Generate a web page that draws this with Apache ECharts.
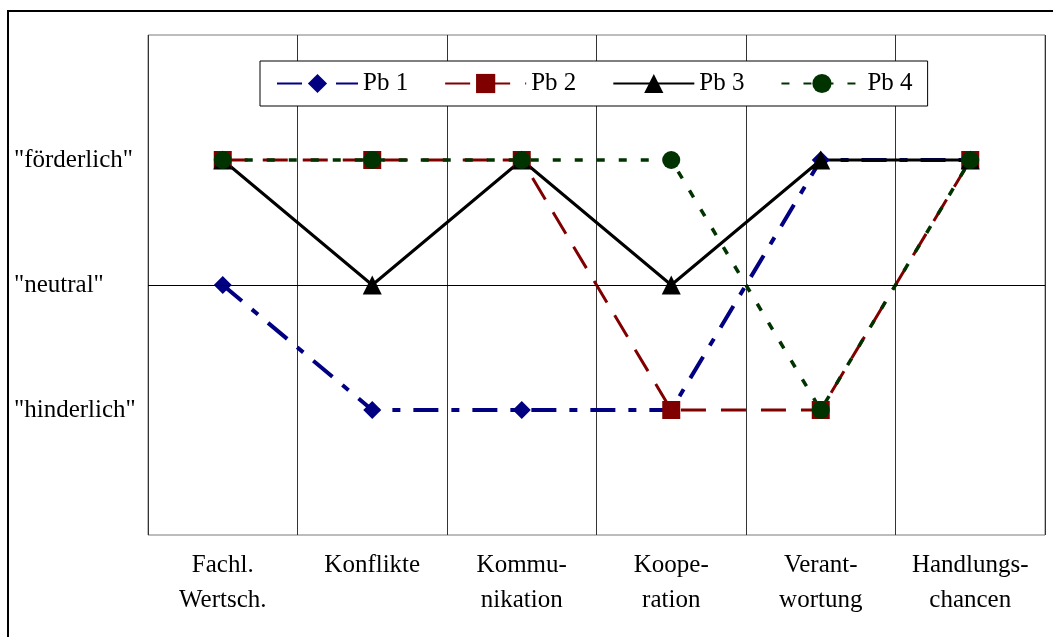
<!DOCTYPE html>
<html>
<head>
<meta charset="utf-8">
<script src="https://cdn.jsdelivr.net/npm/echarts@6/dist/echarts.min.js"></script>
<style>
  html, body { margin: 0; padding: 0; background: #fff; }
  #chart { width: 1053px; height: 637px; }
</style>
</head>
<body>
<div id="chart"></div>
<script>
// Rating scale: -1 = hinderlich, 0 = neutral, 1 = förderlich
const categories = ['Fachl.\nWertsch.', 'Konflikte', 'Kommu-\nnikation', 'Koope-\nration', 'Verant-\nwortung', 'Handlungs-\nchancen'];
const ratingLabels = { '1': '"förderlich"', '0': '"neutral"', '-1': '"hinderlich"' };

const pb1 = [0, -1, -1, -1, 1, 1];
const pb2 = [1, 1, 1, -1, -1, 1];
const pb3 = [1, 0, 1, 0, 1, 1];
const pb4 = [1, 1, 1, 1, -1, 1];

const FONT = 'Liberation Serif';

const chart = echarts.init(document.getElementById('chart'), null, { renderer: 'canvas' });

function lineSeries(name, data, color, width, dash, symbol, size, extra) {
  return Object.assign({
    name: name,
    type: 'line',
    data: data,
    symbol: symbol,
    symbolSize: size,
    showAllSymbol: true,
    lineStyle: { color: color, width: width, type: dash },
    itemStyle: { color: color, borderWidth: 0 },
    emphasis: { disabled: true }
  }, extra || {});
}

chart.setOption({
  animation: false,
  backgroundColor: '#fff',
  textStyle: { fontFamily: FONT, color: '#000' },
  graphic: [
    { type: 'line', shape: { x1: 8, y1: 11, x2: 1053, y2: 11 }, style: { stroke: '#000', lineWidth: 2 }, silent: true },
    { type: 'line', shape: { x1: 8, y1: 10, x2: 8, y2: 637 }, style: { stroke: '#000', lineWidth: 2 }, silent: true }
  ],
  legend: {
    left: 260,
    top: 61,
    padding: [10, 15, 10, 16],
    itemGap: 36,
    itemWidth: 81,
    itemHeight: 24,
    backgroundColor: '#fff',
    borderColor: '#000',
    borderWidth: 1,
    borderRadius: 0,
    textStyle: { fontFamily: FONT, fontSize: 25, color: '#000' },
    data: ['Pb 1', 'Pb 2', 'Pb 3', 'Pb 4']
  },
  grid: {
    left: 148, right: 8, top: 35, bottom: 102,
    show: true, borderColor: '#7a7a7a', borderWidth: 1, backgroundColor: 'transparent'
  },
  xAxis: {
    type: 'category',
    data: categories,
    boundaryGap: true,
    axisLine: { show: false },
    axisTick: { show: false },
    splitLine: { show: true, interval: 0, lineStyle: { color: '#333', width: 1 } },
    axisLabel: {
      interval: 0, margin: 13,
      fontFamily: FONT, fontSize: 25, lineHeight: 35, color: '#000'
    }
  },
  yAxis: {
    type: 'value',
    min: -2, max: 2, interval: 1,
    axisLine: { show: false },
    axisTick: { show: false },
    splitLine: { show: false },
    axisLabel: {
      margin: 134, align: 'left', padding: [7, 0, 0, 0],
      fontFamily: FONT, fontSize: 25, color: '#000',
      formatter: v => ratingLabels[String(v)] || ''
    }
  },
  series: [
    lineSeries('Pb 1', pb1, '#000080', 4, [25, 13, 8, 13], 'diamond', 18, {
      markLine: {
        silent: true,
        symbol: 'none',
        label: { show: false },
        emphasis: { disabled: true },
        lineStyle: { color: '#000', width: 1, type: 'solid' },
        data: [{ yAxis: 0 }]
      }
    }),
    lineSeries('Pb 2', pb2, '#800000', 3, [25, 15], 'rect', 18),
    lineSeries('Pb 3', pb3, '#000000', 3, 'solid', 'triangle', 19),
    lineSeries('Pb 4', pb4, '#003300', 3.5, [8, 14], 'circle', 18)
  ]
});
</script>
</body>
</html>
